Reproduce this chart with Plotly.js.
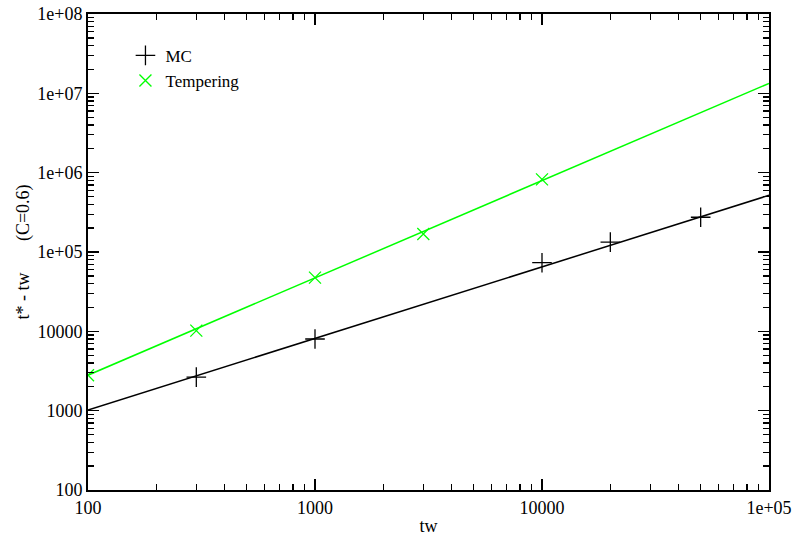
<!DOCTYPE html>
<html>
<head>
<meta charset="utf-8">
<script src="https://cdn.plot.ly/plotly-3.0.1.min.js"></script>
<style>html,body{margin:0;padding:0;background:#fff;}#chart{width:795px;height:536px;}</style>
</head>
<body>
<div id="chart"></div>
<script>
// Data
const mcX = [300, 1000, 10000, 20000, 50000];
const mcY = [2650, 8000, 73300, 133000, 274000];
const tempX = [100, 300, 1000, 3000, 10000];
const tempY = [2800, 10200, 47500, 168600, 824000];
// Fitted power-law lines (endpoints)
const fitX = [100, 100000];
const fitMC = [1020, 518000];
const fitTemp = [2800, 13370000];

const xTickVals = [100, 1000, 10000, 100000];
const xTickText = ["100", "1000", "10000", "1e+05"];
const yTickVals = [100, 1000, 10000, 1e5, 1e6, 1e7, 1e8];
const yTickText = ["100", "1000", "10000", "1e+05", "1e+06", "1e+07", "1e+08"];

function minorVals(majors) {
  const out = [];
  for (let i = 0; i < majors.length - 1; i++) {
    for (let k = 2; k <= 9; k++) out.push(majors[i] * k);
  }
  return out;
}

const fam = 'Liberation Serif, Times New Roman, serif';

const traces = [
  {x: fitX, y: fitMC, mode: 'lines', line: {color: '#000', width: 1.5}, showlegend: false, hoverinfo: 'skip'},
  {x: fitX, y: fitTemp, mode: 'lines', line: {color: '#00ff00', width: 1.5}, showlegend: false, hoverinfo: 'skip'},
  {x: mcX, y: mcY, mode: 'markers', name: 'MC',
   marker: {symbol: 'cross-thin-open', size: 14, color: '#000', line: {color: '#000', width: 1.3}}},
  {x: tempX, y: tempY, mode: 'markers', name: 'Tempering',
   marker: {symbol: 'x-thin-open', size: 12, color: '#00ff00', line: {color: '#00ff00', width: 1.3}}}
];

function axis(majors, text, range, title, standoff) {
  return {
    type: 'log', range: range, showgrid: false, zeroline: false,
    showline: true, linecolor: '#000', linewidth: 2, mirror: 'ticks',
    ticks: 'inside', ticklen: 11, tickwidth: 1.5, tickcolor: '#000',
    tickmode: 'array', tickvals: majors, ticktext: text,
    minor: {ticks: 'inside', tickmode: 'array', tickvals: minorVals(majors), ticklen: 6, tickwidth: 1.3, tickcolor: '#000', showgrid: false},
    tickfont: {family: fam, size: 18, color: '#000'},
    title: {text: title, font: {family: fam, size: 18, color: '#000'}, standoff: standoff}
  };
}

const layout = {
  width: 795, height: 536,
  margin: {l: 88, r: 26, t: 14, b: 46},
  paper_bgcolor: '#fff', plot_bgcolor: '#fff',
  font: {family: fam, size: 17, color: '#000'},
  showlegend: true,
  legend: {x: 0.055, y: 0.95, xanchor: 'left', yanchor: 'top', bgcolor: 'rgba(0,0,0,0)',
           font: {family: fam, size: 17, color: '#000'}, itemwidth: 30, tracegroupgap: 0},
  xaxis: axis(xTickVals, xTickText, [2, 5], 'tw', 3),
  yaxis: axis(yTickVals, yTickText, [2, 8], 't* - tw\u00a0\u00a0\u00a0\u00a0\u00a0\u00a0\u00a0(C=0.6)', 3)
};

Plotly.newPlot('chart', traces, layout, {displayModeBar: false, staticPlot: true});
</script>
</body>
</html>
